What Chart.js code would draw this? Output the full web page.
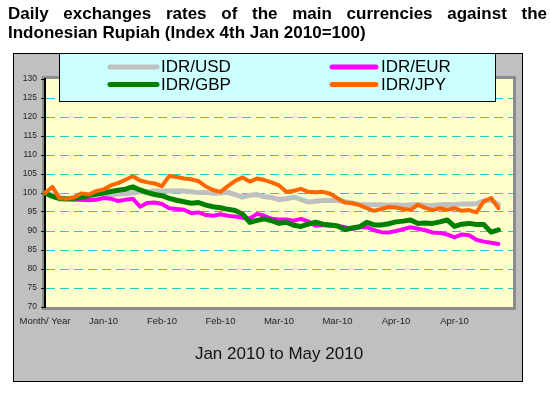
<!DOCTYPE html>
<html>
<head>
<meta charset="utf-8">
<script src="https://cdn.jsdelivr.net/npm/chart.js@4.4.0/dist/chart.umd.min.js"></script>
<style>
    html, body { margin: 0; padding: 0; background: #fff; }
    #wrap { position: relative; width: 550px; height: 393px; overflow: hidden; }
    #chart { position: absolute; left: 0; top: 0; }
    #title {
        position: absolute; left: 8px; top: 4px; width: 539px; z-index: 2;
        font: bold 17px "Liberation Sans", Arial, sans-serif; line-height: 19px; color: #000;
    }
    #title .l1 { text-align: justify; text-align-last: justify; }
</style>
</head>
<body>
<div id="wrap">
    <div id="title">
        <div class="l1">Daily exchanges rates of the main currencies against the</div>
        <div>Indonesian Rupiah (Index 4th Jan 2010=100)</div>
    </div>
    <canvas id="chart" width="550" height="393"></canvas>
</div>
<script>
// Tick labels along the bottom, one every 8 trading days
const tickLabels = ['Month/ Year', 'Jan-10', 'Feb-10', 'Feb-10', 'Mar-10', 'Mar-10', 'Apr-10', 'Apr-10'];
const labelEvery = 8;
const slotCount = 65; // axis runs a little past the last day

const seriesNames = ['IDR/USD', 'IDR/EUR', 'IDR/GBP', 'IDR/JPY'];
const seriesColors = ['#C0C0C0', '#FF00FF', '#008000', '#FF6600'];

// Index values (4th Jan 2010 = 100)
const usd = [100, 99.5, 98.8, 98.5, 98.2, 98.4, 98.7, 99.3, 99.5, 99.6, 99.7, 99.8, 100.0, 100.3, 100.4, 100.5,
    100.5, 100.5, 100.6, 100.5, 100.3, 100.1, 100.2, 99.9, 100.0, 100.2, 99.6, 98.9, 99.4, 99.6, 99.0, 98.8,
    98.3, 98.5, 98.9, 98.3, 97.6, 97.8, 98.0, 98.0, 98.0, 97.7, 97.4, 97.0, 96.9, 96.9, 96.9, 96.8,
    96.9, 96.7, 96.9, 97.0, 96.8, 96.7, 96.9, 97.0, 96.9, 97.1, 97.1, 97.2, 97.9, 98.1, 97.0];
const eur = [100, 99.2, 98.6, 98.4, 98.3, 98.2, 98.1, 98.2, 98.7, 98.5, 97.9, 98.2, 98.5, 96.4, 97.4, 97.5,
    97.1, 96.0, 95.8, 95.6, 94.7, 94.9, 94.2, 94.0, 94.4, 94.0, 93.8, 93.5, 93.3, 94.5, 94.0, 93.2,
    93.0, 93.0, 92.7, 93.2, 92.5, 91.4, 91.6, 91.4, 91.4, 91.0, 90.5, 91.0, 91.0, 90.2, 89.7, 89.6,
    90.0, 90.5, 91.0, 90.6, 90.2, 89.6, 89.5, 89.1, 88.3, 89.1, 88.9, 87.7, 87.2, 86.9, 86.6];
const gbp = [100, 99.1, 98.5, 98.4, 98.6, 98.9, 99.3, 99.7, 100.0, 100.4, 100.7, 101.0, 101.6, 100.8, 100.1, 99.6,
    99.3, 98.6, 98.1, 97.7, 97.3, 97.5, 96.8, 96.4, 96.1, 95.7, 95.4, 94.5, 92.3, 92.8, 93.2, 92.7,
    92.0, 92.3, 91.5, 91.2, 91.8, 92.3, 91.8, 91.6, 91.3, 90.4, 90.8, 91.1, 92.3, 91.6, 91.6, 91.9,
    92.4, 92.6, 92.9, 92.0, 92.1, 92.0, 92.4, 92.9, 91.2, 91.8, 92.0, 91.7, 91.7, 89.7, 90.3];
const jpy = [100, 101.6, 98.6, 98.5, 98.9, 99.9, 99.6, 100.5, 100.9, 102.0, 102.6, 103.5, 104.4, 103.3, 102.8, 102.5,
    101.8, 104.5, 104.2, 103.8, 103.6, 103.1, 101.7, 100.8, 100.3, 101.8, 103.2, 104.1, 103.0, 103.8, 103.4, 102.8,
    102.0, 100.3, 100.6, 101.1, 100.3, 100.2, 100.3, 99.8, 98.6, 97.5, 97.3, 96.8, 96.0, 95.3, 95.8, 96.3,
    96.2, 95.8, 95.6, 96.9, 96.1, 95.5, 96.0, 95.6, 96.0, 95.3, 95.5, 94.9, 97.8, 98.7, 96.0];

const yMin = 70, yMax = 130, yStep = 5;

const categories = Array.from({length: slotCount}, (_, i) =>
    i % labelEvery === 0 ? (tickLabels[i / labelEvery] || '') : '');

const FONT = '"Liberation Sans", Arial, sans-serif';

// Grey panel, yellow plot area and its frame
const backdrop = {
    id: 'backdrop',
    beforeDraw(chart) {
        const {ctx, chartArea: a} = chart;
        ctx.save();
        ctx.fillStyle = '#fff';
        ctx.fillRect(0, 0, chart.width, chart.height);
        ctx.fillStyle = '#C0C0C0';
        ctx.fillRect(13, 53, 510, 329);
        ctx.strokeStyle = '#000';
        ctx.lineWidth = 1;
        ctx.strokeRect(13.5, 53.5, 509, 328);
        ctx.fillStyle = '#FFFFCC';
        ctx.fillRect(a.left, a.top, a.right - a.left, a.bottom - a.top);
        ctx.strokeStyle = '#8C8C8C';
        ctx.lineWidth = 3;
        ctx.strokeRect(a.left - 1.5, a.top - 1.5, a.right - a.left + 3, a.bottom - a.top + 3);
        ctx.restore();
    }
};

// Two-column legend box at the top of the panel
const boxLegend = {
    id: 'boxLegend',
    afterDraw(chart) {
        const {ctx} = chart;
        ctx.save();
        ctx.fillStyle = '#CCFFFF';
        ctx.fillRect(60, 54, 436, 48);
        ctx.strokeStyle = '#000';
        ctx.lineWidth = 1;
        ctx.strokeRect(59.5, 53.5, 436, 48);
        const lineX = [[110, 157], [332, 376]];
        const textX = [161, 381];
        const rowY = [67, 84.5];
        chart.data.datasets.forEach((ds, i) => {
            const col = i % 2, row = Math.floor(i / 2);
            ctx.strokeStyle = ds.borderColor;
            ctx.lineWidth = 5;
            ctx.lineCap = 'round';
            ctx.beginPath();
            ctx.moveTo(lineX[col][0], rowY[row]);
            ctx.lineTo(lineX[col][1], rowY[row]);
            ctx.stroke();
            ctx.fillStyle = '#000';
            ctx.font = '17px ' + FONT;
            ctx.textBaseline = 'middle';
            ctx.fillText(ds.label, textX[col], rowY[row] + 0.5);
        });
        ctx.restore();
    }
};

const seriesData = [usd, eur, gbp, jpy];
const widths = [5, 4, 5, 4];
const drawOrder = [4, 3, 2, 1];

new Chart(document.getElementById('chart'), {
    type: 'line',
    data: {
        labels: categories,
        datasets: seriesNames.map((name, i) => ({
            label: name,
            data: seriesData[i],
            borderColor: seriesColors[i],
            backgroundColor: seriesColors[i],
            borderWidth: widths[i],
            pointRadius: 0,
            tension: 0,
            borderJoinStyle: 'round',
            borderCapStyle: 'round',
            order: drawOrder[i]
        }))
    },
    options: {
        responsive: false,
        animation: false,
        layout: { padding: { top: 79, right: 37, left: 0, bottom: 0 } },
        plugins: {
            legend: { display: false },
            tooltip: { enabled: false }
        },
        scales: {
            x: {
                type: 'category',
                offset: false,
                grid: { display: false, drawTicks: false },
                border: { display: false },
                ticks: {
                    autoSkip: false,
                    maxRotation: 0,
                    padding: 9,
                    color: '#222',
                    font: { family: FONT, size: 9.5 }
                },
                title: {
                    display: true,
                    text: 'Jan 2010 to May 2010',
                    color: '#111',
                    font: { family: FONT, size: 17 },
                    padding: { top: 0, bottom: 28 }
                },
                afterFit: (scale) => { scale.height = 86; }
            },
            y: {
                min: yMin,
                max: yMax,
                ticks: {
                    stepSize: yStep,
                    padding: 4,
                    color: '#222',
                    font: { family: FONT, size: 8.5 }
                },
                grid: {
                    color: (c) => (c.tick && (c.tick.value === yMin || c.tick.value === yMax)) ? 'rgba(0,0,0,0)' : '#22CCCC',
                    lineWidth: 1,
                    tickLength: 4,
                    tickColor: '#000'
                },
                border: { display: true, color: '#000', width: 2, dash: [9, 5] },
                afterFit: (scale) => { scale.width = 45; }
            }
        }
    },
    plugins: [backdrop, boxLegend]
});
</script>
</body>
</html>
